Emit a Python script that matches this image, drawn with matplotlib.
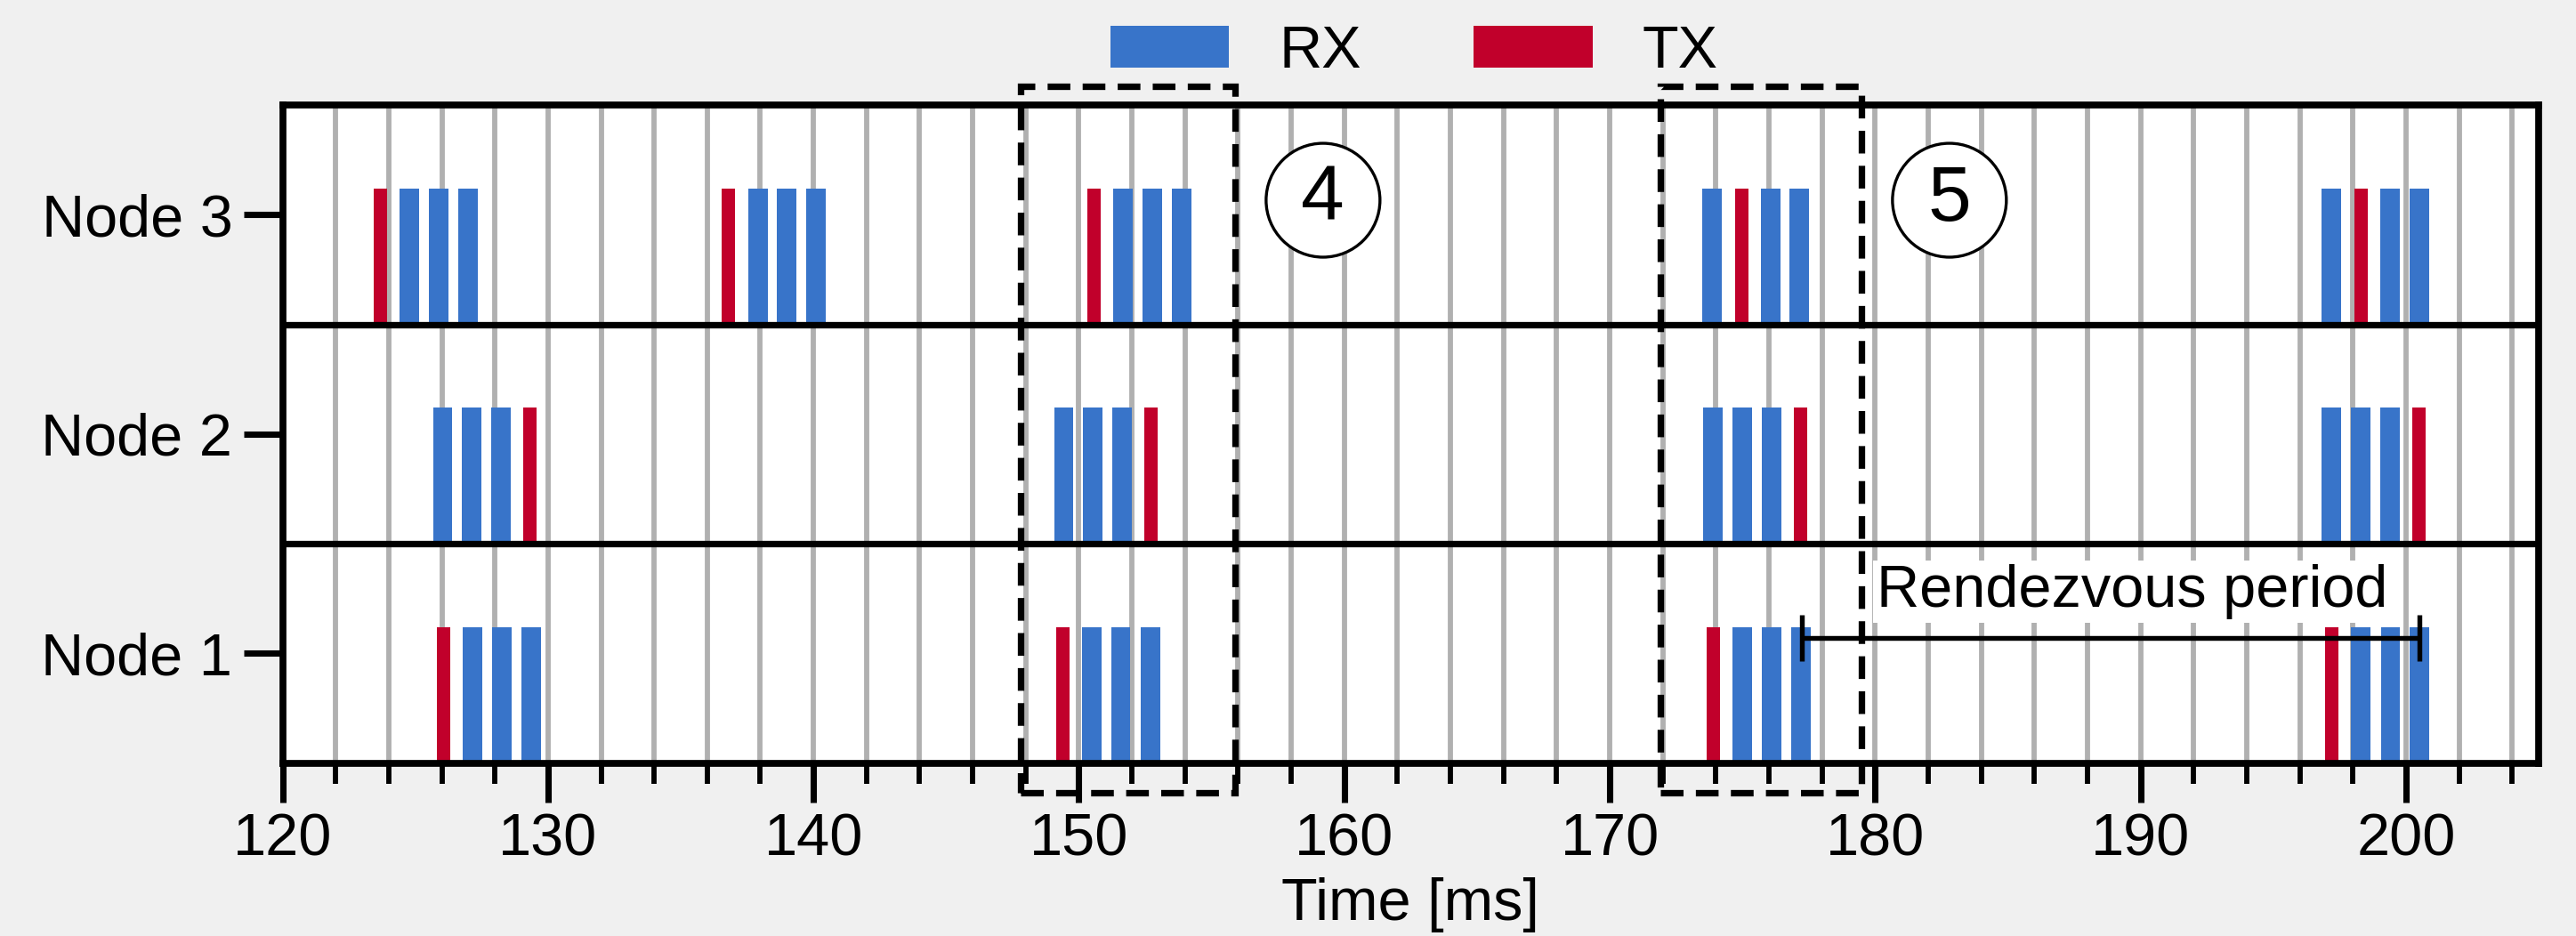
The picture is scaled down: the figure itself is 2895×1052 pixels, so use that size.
import matplotlib
matplotlib.use("Agg")
import matplotlib.pyplot as plt
from matplotlib.patches import Patch, Rectangle, Ellipse

plt.rcParams['font.family'] = ['Liberation Sans', 'DejaVu Sans']

# ---- data ----
nodes = ["Node 1", "Node 2", "Node 3"]
node_rows = [1, 2, 3]

node1_rx = [127.16, 128.27, 129.37, 150.49, 151.58, 152.69, 175.0, 176.1, 177.2, 198.3, 199.42, 200.5]
node1_tx = [126.07, 149.4, 173.91, 197.2]
node2_rx = [126.03, 127.12, 128.22, 149.43, 150.52, 151.62, 173.9, 175.0, 176.1, 197.19, 198.3, 199.4]
node2_tx = [129.33, 152.72, 177.2, 200.5]
node3_rx = [124.78, 125.88, 126.98, 137.91, 139.0, 140.1, 151.67, 152.77, 153.87,
            173.85, 176.06, 177.15, 197.2, 199.4, 200.5]
node3_tx = [123.67, 136.8, 150.57, 174.97, 198.3]

rx_data = [node1_rx, node2_rx, node3_rx]
tx_data = [node1_tx, node2_tx, node3_tx]

rx_width = 0.73
tx_width = 0.5
bar_height = 0.62

xticks = [120, 130, 140, 150, 160, 170, 180, 190, 200]
x_min, x_max = 120, 205

# highlighted windows (x ranges in ms) and their labels
windows = [(147.8, 155.9), (171.9, 179.5)]
window_labels = ["4", "5"]
window_label_x = [159.2, 182.8]

rendezvous_start, rendezvous_end = 177.25, 200.5
rendezvous_label = "Rendezvous period"

BLUE = "#3874c9"
RED = "#c1002b"
GRID = "#b0b0b0"

fig = plt.figure(figsize=(2895 / 300, 1052 / 300), dpi=300, facecolor="#f0f0f0")
ax = fig.add_axes([0.1097, 0.1847, 0.9855 - 0.1097, 0.8878 - 0.1847])
ax.set_facecolor("white")

for row, rx, tx in zip(node_rows, rx_data, tx_data):
    ax.bar(rx, [bar_height] * len(rx), width=rx_width, bottom=row - 0.5,
           color=BLUE, edgecolor="none", zorder=3)
    ax.bar(tx, [bar_height] * len(tx), width=tx_width, bottom=row - 0.5,
           color=RED, edgecolor="none", zorder=3)

# row separators
for sep in [1.5, 2.5]:
    ax.axhline(sep, color="black", lw=1.75, zorder=4)

ax.set_xlim(x_min, x_max)
ax.set_ylim(0.5, 3.5)
ax.set_xticks(xticks)
ax.set_xticklabels([str(t) for t in xticks])
ax.set_xticks(list(range(x_min, x_max + 1, 2)), minor=True)
ax.set_yticks(node_rows)
ax.set_yticklabels(nodes)

ax.grid(True, which="both", axis="x", color=GRID, lw=1.4, zorder=1)
ax.set_axisbelow(True)

for s in ax.spines.values():
    s.set_linewidth(1.85)
    s.set_zorder(6)

ax.tick_params(axis="x", which="major", length=10.5, width=1.7, labelsize=16, pad=3)
ax.tick_params(axis="x", which="minor", length=5.5, width=1.4)
ax.tick_params(axis="y", which="major", length=10.5, width=1.7, labelsize=16, pad=3)
ax.tick_params(axis="y", which="minor", length=0)

ax.set_xlabel("Time [ms]", fontsize=16, labelpad=2.5)

# dashed highlight windows
for (x0, x1), lab, lx in zip(windows, window_labels, window_label_x):
    rect = Rectangle((x0, 0.365), x1 - x0, 3.586 - 0.365, fill=False,
                     edgecolor="black", lw=1.75, linestyle=(0, (3.5, 1.9)),
                     clip_on=False, zorder=7)
    ax.add_patch(rect)
    ell = Ellipse((lx, 3.066), 4.29, 0.519, fill=True, facecolor="white",
                  edgecolor="black", lw=0.8, zorder=7)
    ax.add_patch(ell)
    ax.text(lx, 3.066, lab, fontsize=21, ha="center", va="center", zorder=8)

# rendezvous period bracket
ax.hlines(1.072, rendezvous_start, rendezvous_end, color="black", lw=1.3, zorder=5)
ax.vlines([rendezvous_start, rendezvous_end], 1.072 - 0.106, 1.072 + 0.106,
          color="black", lw=1.3, zorder=5)
ax.text(180.07, 1.214, rendezvous_label, fontsize=16, ha="left", va="baseline",
        zorder=5, bbox=dict(facecolor="white", edgecolor="none", pad=1))

handles = [Patch(facecolor=BLUE, label="RX"), Patch(facecolor=RED, label="TX")]
fig.legend(handles=handles, loc="center", bbox_to_anchor=(0.549, 0.944), ncol=2,
           frameon=False, fontsize=16, handlelength=2.0, handleheight=0.7,
           handletextpad=0.84, columnspacing=1.9)

fig.savefig("out.png", dpi=300, facecolor=fig.get_facecolor())
